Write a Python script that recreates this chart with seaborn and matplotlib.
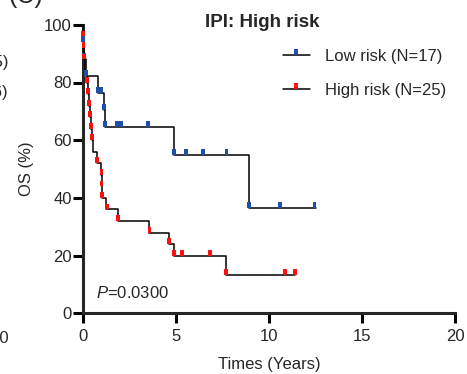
import matplotlib
matplotlib.use("Agg")
import matplotlib.pyplot as plt
from matplotlib.path import Path
from matplotlib.lines import Line2D
import numpy as np
import pandas as pd
import seaborn as sns

# Kaplan-Meier step curves (time in years, overall survival in %)
low_t = [0, 0.01, 0.05, 0.16, 0.79, 1.13, 1.20, 4.91, 8.94, 12.5]
low_os = [100, 94.1, 88.2, 82.4, 76.5, 70.6, 64.7, 55.0, 36.6, 36.6]

high_t = [0, 0.01, 0.02, 0.04, 0.10, 0.20, 0.28, 0.34, 0.38, 0.43, 0.50, 0.55,
          0.77, 0.98, 1.00, 1.04, 1.24, 1.90, 3.57, 4.64, 4.91, 7.69, 11.4]
high_os = [100, 96, 92, 88, 84, 80, 76, 72, 68, 64, 60, 56,
           52, 48, 44, 40, 36, 32, 28, 24, 20, 13.3, 13.3]

# Tick marks drawn on the curves
low_mark_t = [0.01, 0.05, 0.16, 0.80, 0.95, 1.13, 1.20, 1.81, 2.03, 3.48,
              4.91, 5.52, 6.47, 7.72, 8.94, 10.6, 12.45]
low_mark_os = [94.1, 88.2, 82.4, 76.5, 76.5, 70.6, 64.7, 64.7, 64.7, 64.7,
               55.0, 55.0, 55.0, 55.0, 36.6, 36.6, 36.6]

high_mark_t = [0.01, 0.02, 0.04, 0.20, 0.28, 0.34, 0.38, 0.43, 0.50, 0.77,
               0.99, 1.00, 1.04, 1.30, 1.90, 3.57, 4.64, 4.91, 5.34, 6.83,
               7.69, 10.86, 11.4]
high_mark_os = [96, 92, 88, 80, 76, 72, 68, 64, 60, 52,
                48, 44, 40, 36, 32, 28, 24, 20, 20, 20,
                13.3, 13.3, 13.3]

groups = ["Low risk (N=17)", "High risk (N=25)"]
group_colors = ["#1f4fa8", "#ff1010"]
x_ticks = [0, 5, 10, 15, 20]
y_ticks = [0, 20, 40, 60, 80, 100]
p_text = "$P$=0.0300"

sns.set_style("ticks")
plt.rcParams["font.family"] = ["Liberation Sans", "DejaVu Sans"]
plt.rcParams["mathtext.fontset"] = "custom"
plt.rcParams["mathtext.it"] = "Liberation Sans:italic"
plt.rcParams["mathtext.rm"] = "Liberation Sans"

curves = pd.concat([
    pd.DataFrame({"time": low_t, "os": low_os, "group": groups[0]}),
    pd.DataFrame({"time": high_t, "os": high_os, "group": groups[1]}),
], ignore_index=True)
marks = pd.concat([
    pd.DataFrame({"time": low_mark_t, "os": low_mark_os, "group": groups[0]}),
    pd.DataFrame({"time": high_mark_t, "os": high_mark_os, "group": groups[1]}),
], ignore_index=True)

# small vertical tick that sits on top of the curve
tick = Path([(-0.32, 0), (0.32, 0), (0.32, 1), (-0.32, 1), (-0.32, 0)],
            [Path.MOVETO, Path.LINETO, Path.LINETO, Path.LINETO, Path.CLOSEPOLY])

fig = plt.figure(figsize=(4.67, 3.74), dpi=100)
ax = fig.add_axes([83 / 467, 60.7 / 374, 372 / 467, 288.5 / 374])

sns.lineplot(data=curves, x="time", y="os", units="group", estimator=None,
             sort=False, color="black", linewidth=1.1, drawstyle="steps-post",
             ax=ax, legend=False, clip_on=False, zorder=3)
sns.scatterplot(data=marks, x="time", y="os", hue="group",
                palette=dict(zip(groups, group_colors)), marker=tick, s=70,
                linewidth=0, ax=ax, legend=False, clip_on=False, zorder=4)

ax.set_xlim(0, 20)
ax.set_ylim(0, 100)
ax.set_xticks(x_ticks)
ax.set_yticks(y_ticks)
sns.despine(ax=ax)
for side in ("left", "bottom"):
    ax.spines[side].set_linewidth(2.2)
ax.tick_params(axis="both", width=2.2, length=7, labelsize=12, color="black")
ax.tick_params(axis="y", pad=1)
ax.tick_params(axis="x", pad=4)
ax.set_xlabel("Times (Years)", fontsize=12, labelpad=10)
ax.set_ylabel("OS (%)", fontsize=12, labelpad=7)

ax.text(9.62, 99.3, "IPI: High risk", ha="center", va="baseline",
        fontsize=13.5, fontweight="bold")
ax.text(0.7, 7.0, p_text, ha="left", va="center", fontsize=12)

handles = [Line2D([], [], color="black", linewidth=1.1, marker=tick,
                  markersize=8.4, markerfacecolor=c, markeredgewidth=0)
           for c in group_colors]
ax.legend(handles, groups, loc="center left", bbox_to_anchor=(0.5376, 0.8315),
          frameon=False, fontsize=12, handlelength=1.62, handletextpad=0.9,
          labelspacing=1.1, borderpad=0, borderaxespad=0, numpoints=1)

# neighbouring panel fragments at the left edge
fig.text(8 / 467, 1 - 3 / 374, "(C)", fontsize=18, ha="left", va="baseline")
fig.text(8 / 467, 1 - 67 / 374, "(N=15)", fontsize=12, ha="right", va="baseline")
fig.text(8 / 467, 1 - 97 / 374, "(N=26)", fontsize=12, ha="right", va="baseline")
fig.text(9 / 467, 1 - 343 / 374, "20", fontsize=12, ha="right", va="baseline")

fig.savefig("out.png", dpi=100)
